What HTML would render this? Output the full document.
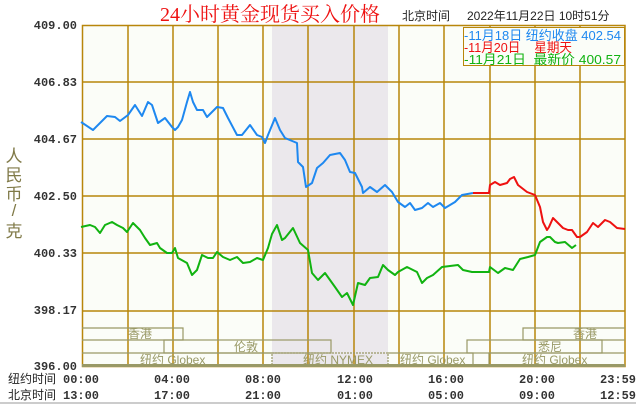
<!DOCTYPE html>
<html><head><meta charset="utf-8"><style>
html,body{margin:0;padding:0;background:#fff;}
svg{display:block}
.t{font-family:"Liberation Mono","Noto Sans CJK SC",monospace;font-weight:bold;font-size:12px;fill:#333}
.c{font-family:"Liberation Sans","Noto Sans CJK SC",sans-serif;}
.m{font-family:"Liberation Sans","Noto Sans CJK SC",sans-serif;font-size:12px;fill:#999966}
</style></head><body>
<svg width="636" height="404" viewBox="0 0 636 404">
<rect x="82" y="25" width="543" height="342" fill="#fbfdf8"/>
<rect x="272" y="25" width="116" height="342" fill="#ebe8ec"/>
<g stroke="#b8860b" stroke-width="1.5" fill="none">
<rect x="82.5" y="25.5" width="542.5" height="341"/>
<path d="M128 25V367M173 25V367M218 25V367M263 25V367M308 25V367M354 25V367M399 25V367M444 25V367M490 25V367M535 25V367M580 25V367"/>
<path d="M82 82H625M82 139H625M82 196H625M82 253H625M82 311H625"/>
</g>
<g stroke="#999966" stroke-width="1.2" fill="none">
<path d="M82 328H183V340H82"/>
<rect x="164" y="340" width="167" height="13"/>
<path d="M82 353H272M82 366H625"/>
<rect x="272" y="353" width="116" height="13" stroke-dasharray="2,1"/>
<path d="M388 353H473V366M489 366V353H625"/>
<path d="M625 328H523V340H625"/>
<rect x="467" y="340" width="135" height="13"/>
</g>
<rect x="82" y="364" width="543" height="3" fill="#999966"/>
<g class="m">
<text x="128" y="338">香港</text>
<text x="234" y="351">伦敦</text>
<text x="140" y="364">纽约 Globex</text>
<text x="303" y="364">纽约 NYMEX</text>
<text x="400" y="364">纽约 Globex</text>
<text x="573" y="338">香港</text>
<text x="538" y="351">悉尼</text>
<text x="522" y="364">纽约 Globex</text>
</g>
<g fill="none" stroke-width="2" stroke-linejoin="round">
<polyline stroke="#1e88f0" points="81,122 93,130 107,116 115,117 120,121 128,115 135,105 142,116 148,102 152,105 158,123 165,118 172,127 175,130 178,127 182,120 187,102 190,92 193,102 197,110 203,110 207,117 217,107 223,108 228,118 237,135 242,135 250,125 257,135 262,137 265,143 268,135 275,118 280,130 285,138 297,143 298,162 303,167 306,187 312,183 317,168 323,163 330,155 340,153 345,160 350,172 355,173 362,187 363,193 370,187 377,192 385,185 392,192 398,202 405,207 410,203 415,210 422,208 428,203 433,207 440,203 445,208 455,202 462,195 473,193"/>
<polyline stroke="#ee1111" points="473,193 489,193 490,185 495,182 500,185 507,183 510,179 514,177 518,185 527,192 535,195 540,207 543,222 547,230 549,227 553,218 558,223 563,228 568,230 572,230 577,237 580,237 587,232 593,223 598,227 605,220 610,222 617,228 625,229"/>
<polyline stroke="#11b311" points="81,227 90,225 95,227 100,233 105,225 112,222 117,225 123,228 127,232 133,223 140,230 145,238 150,245 157,243 160,248 167,253 172,253 175,248 178,258 187,263 192,275 197,270 202,255 208,258 213,258 217,252 223,257 230,260 237,257 243,263 250,262 257,258 263,260 268,248 272,234 277,225 282,240 285,238 293,228 300,243 308,250 312,273 318,280 325,273 335,287 342,297 347,293 353,305 358,283 365,285 370,278 378,277 383,265 388,270 395,275 398,272 407,267 417,272 422,283 427,278 433,275 442,267 450,266 458,265 463,270 472,272 489,272 490,267 498,273 505,268 513,270 520,259 528,257 535,255 540,242 547,237 550,237 555,242 558,243 565,242 572,248 576,245"/>
</g>
<rect x="463.5" y="27.5" width="161" height="38" fill="#fbfdf8" stroke="#b8860b" stroke-width="1"/>
<g class="c" font-size="13">
<text x="464" y="40" fill="#1e88f0" textLength="157" lengthAdjust="spacingAndGlyphs">-11月18日 纽约收盘 402.54</text>
<text x="464" y="52" fill="#ee1111" textLength="108" lengthAdjust="spacingAndGlyphs">-11月20日 &#160;&#160;&#160;星期天</text>
<text x="464" y="64" fill="#11b311" textLength="157" lengthAdjust="spacingAndGlyphs">-11月21日 &#160;最新价 400.57</text>
</g>
<text x="160" y="21" font-size="20" fill="#ee1111" style="font-family:'Liberation Serif','Noto Serif CJK SC',serif">24小时黄金现货买入价格</text>
<text x="402" y="20" class="c" font-size="12" fill="#222">北京时间</text>
<text x="467" y="20" class="c" font-size="12" fill="#222">2022年11月22日 10时51分</text>
<g class="t" text-anchor="end">
<text x="77" y="29">409.00</text>
<text x="77" y="86">406.83</text>
<text x="77" y="143">404.67</text>
<text x="77" y="200">402.50</text>
<text x="77" y="257">400.33</text>
<text x="77" y="314">398.17</text>
<text x="77" y="370">396.00</text>
</g>
<g class="c" font-size="17" fill="#807a48" text-anchor="middle">
<text x="14" y="162">人</text><text x="14" y="181">民</text><text x="14" y="200">币</text><text x="14" y="216">/</text><text x="14" y="237">克</text>
</g>
<g class="c" font-size="12" fill="#222"><text x="8" y="383">纽约时间</text><text x="8" y="399">北京时间</text></g>
<g class="t" fill="#222">
<text x="63" y="383">00:00</text><text x="154" y="383">04:00</text><text x="245" y="383">08:00</text><text x="337" y="383">12:00</text><text x="428" y="383">16:00</text><text x="519" y="383">20:00</text><text x="600" y="383">23:59</text>
<text x="63" y="399">13:00</text><text x="154" y="399">17:00</text><text x="245" y="399">21:00</text><text x="337" y="399">01:00</text><text x="428" y="399">05:00</text><text x="519" y="399">09:00</text><text x="600" y="399">12:59</text>
</g>
<rect x="0" y="402" width="636" height="2" fill="#ccc"/>
</svg>
</body></html>
